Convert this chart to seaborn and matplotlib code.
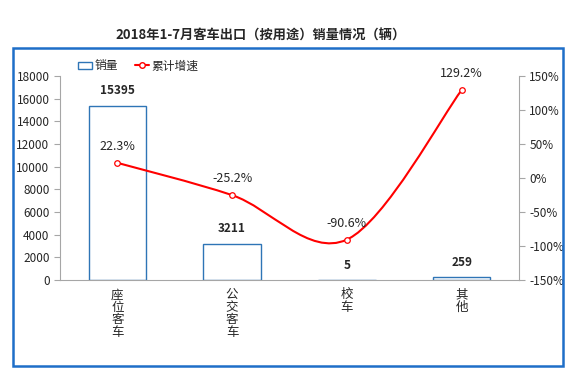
import matplotlib
matplotlib.use("Agg")
import matplotlib.pyplot as plt
import seaborn as sns
import numpy as np
from matplotlib.path import Path
from matplotlib.patches import PathPatch, Rectangle
from matplotlib.lines import Line2D
from matplotlib.ticker import FuncFormatter

categories = ["座位客车", "公交客车", "校车", "其他"]
sales = [15395, 3211, 5, 259]
growth = [22.3, -25.2, -90.6, 129.2]
sales_ticks = list(range(0, 18001, 2000))
growth_ticks = list(range(-150, 151, 50))

sns.set_style("white")
plt.rcParams["font.family"] = ["Noto Sans CJK SC", "DejaVu Sans"]

BAR_BLUE = "#2E75B6"
LINE_RED = "#FF0000"
AXIS_GRAY = "#A6A6A6"

fig = plt.figure(figsize=(5.8, 3.81), dpi=100)
ax = fig.add_axes([0.1034, 0.2651, 0.7914, 0.5354])

sns.barplot(x=categories, y=sales, ax=ax, width=0.5, fill=False,
            color=BAR_BLUE, linewidth=1.0)
for i, v in enumerate(sales):
    ax.annotate(f"{v}", (i, v), xytext=(0, 6), textcoords="offset points",
                ha="center", va="bottom", fontsize=8.5, fontweight="bold")

ax.set_xlim(-0.5, len(categories) - 0.5)
ax.set_ylim(0, 18000)
ax.set_yticks(sales_ticks)
ax.set_xticks(range(len(categories)))
ax.set_xticklabels(["\n".join(c) for c in categories], fontsize=9, linespacing=0.95, va="top")
ax.set_xticks(np.arange(-0.5, len(categories), 1.0), minor=True)
ax.tick_params(axis="x", which="major", length=0, pad=6)
ax.tick_params(axis="x", which="minor", length=4, color=AXIS_GRAY, direction="out")
ax.tick_params(axis="y", length=4, color=AXIS_GRAY, direction="out", labelsize=8.5, left=True)
ax.set_xlabel("")
ax.set_ylabel("")
for s in ["top", "right"]:
    ax.spines[s].set_visible(False)
for s in ["left", "bottom"]:
    ax.spines[s].set_color(AXIS_GRAY)
    ax.spines[s].set_linewidth(0.8)

ax2 = ax.twinx()
ax2.set_ylim(-150, 150)
ax2.set_yticks(growth_ticks)
ax2.yaxis.set_major_formatter(FuncFormatter(lambda v, p: f"{int(v)}%"))
ax2.tick_params(axis="y", length=4, color=AXIS_GRAY, direction="out", labelsize=8.5, right=True)
for s in ["top", "left", "bottom"]:
    ax2.spines[s].set_visible(False)
ax2.spines["right"].set_color(AXIS_GRAY)
ax2.spines["right"].set_linewidth(0.8)

# smoothed line (Excel-like Catmull-Rom bezier through the points)
xs = np.arange(len(growth), dtype=float)
pts = np.column_stack([xs, growth])
ext = np.vstack([pts[0], pts, pts[-1]])
verts = [tuple(pts[0])]
codes = [Path.MOVETO]
for i in range(len(pts) - 1):
    p0, p1, p2, p3 = ext[i], ext[i + 1], ext[i + 2], ext[i + 3]
    c1 = p1 + (p2 - p0) / 6.0
    c2 = p2 - (p3 - p1) / 6.0
    verts += [tuple(c1), tuple(c2), tuple(p2)]
    codes += [Path.CURVE4] * 3
ax2.add_patch(PathPatch(Path(verts, codes), facecolor="none", edgecolor=LINE_RED, lw=1.5))
ax2.plot(xs, growth, linestyle="none", marker="o", ms=4, mfc="white", mec=LINE_RED, mew=0.9)
for x, v in zip(xs, growth):
    ax2.annotate(f"{v}%", (x, v), xytext=(0, 7), textcoords="offset points",
                 ha="center", va="bottom", fontsize=9)

handles = [
    Rectangle((0, 0), 1, 1, facecolor="white", edgecolor=BAR_BLUE, lw=1.0),
    Line2D([], [], color=LINE_RED, lw=1.5, marker="o", ms=4, mfc="white", mec=LINE_RED),
]
fig.legend(handles, ["销量", "累计增速"], loc="center", bbox_to_anchor=(0.238, 0.827),
           ncol=2, frameon=False, fontsize=8.5, handlelength=1.2, handletextpad=0.2,
           columnspacing=1.4, handleheight=0.6)

fig.suptitle("2018年1-7月客车出口（按用途）销量情况（辆）", x=0.45, y=0.925, fontsize=9.5,
             fontweight="bold")

fig.add_artist(Rectangle((0.0224, 0.0394), 0.948, 0.835, transform=fig.transFigure,
                         fill=False, edgecolor="#1E6EC8", lw=1.8))

fig.savefig("out.png", dpi=100)
